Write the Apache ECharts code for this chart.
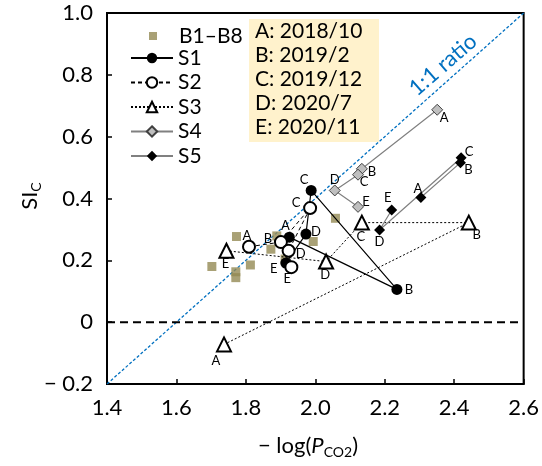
<!DOCTYPE html>
<html><head><meta charset="utf-8">
<script src="https://cdn.jsdelivr.net/npm/echarts@6/dist/echarts.min.js"></script>
<style>html,body{margin:0;padding:0;background:#fff}#c{width:542px;height:466px}</style>
</head><body><div id="c"></div>
<script>
// ---- data ----
const pointLetters = ['A','B','C','D','E'];
const dateLabels = ['A: 2018/10','B: 2019/2','C: 2019/12','D: 2020/7','E: 2020/11'];
const xTicks = ['1.4','1.6','1.8','2.0','2.2','2.4','2.6'];
const yTicks = ['\u2212 0.2','0','0.2','0.4','0.6','0.8','1.0'];
const bX = [1.702,1.773,1.771,1.771,1.813,1.872,1.889,1.994,2.058,1.913];
const bY = [0.180,0.277,0.163,0.144,0.185,0.236,0.279,0.261,0.336,0.204];
const s1X = [1.925,2.235,1.988,1.973,1.915];
const s1Y = [0.275,0.106,0.426,0.285,0.191];
const s2X = [1.809,1.901,1.985,1.923,1.931];
const s2Y = [0.244,0.259,0.369,0.231,0.178];
const s3X = [1.737,2.442,2.134,2.031,1.744];
const s3Y = [-0.072,0.322,0.322,0.196,0.231];
const s4X = [2.351,2.134,2.123,2.056,2.123];
const s4Y = [0.687,0.496,0.477,0.426,0.373];
const s5X = [2.304,2.418,2.420,2.185,2.220];
const s5Y = [0.403,0.516,0.532,0.298,0.363];
const ratioX = [1.4,2.6];
const ratioY = [-0.2,1.0];
const zeroX = [1.4,2.6];
const zeroY = [0,0];

// ---- label offsets (style) ----
const off1 = [[-4,-11],[12,0],[-7,-11],[10,-2],[-12,6]];
const off2 = [[-2,-11],[-13,-3],[-14,-5],[12,3],[-4,12]];
const off3 = [[-8,16],[8,12],[-1,14],[-1,13],[-1,13]];
const off4 = [[7,8],[10,3],[6,7],[0,-11],[8,-5]];
const off5 = [[-3,-9],[8,7],[8,-6],[0,12],[-4,-12]];

const FONT = 'Lato';
function pts(xs, ys, offs) {
  return xs.map((x, i) => ({
    value: [x, ys[i]],
    label: { show: true, position: 'inside', offset: offs[i], formatter: pointLetters[i],
             fontSize: 13, color: '#000', fontFamily: FONT }
  }));
}
function lineSeries(name, xs, ys, offs, sym, size, itemStyle, lineStyle) {
  return { name, type: 'line', data: pts(xs, ys, offs), symbol: sym, symbolSize: size,
    showAllSymbol: true, itemStyle, lineStyle, emphasis: { disabled: true }, z: 3 };
}

const chart = echarts.init(document.getElementById('c'), null, { renderer: 'canvas' });
const option = {
  animation: false,
  grid: { left: 107, top: 13, right: 15, bottom: 82, show: true, borderColor: '#000', borderWidth: 2 },
  xAxis: { type: 'value', min: 1.4, max: 2.6, interval: 0.2,
    axisLine: { show: true, onZero: false, lineStyle: { color: '#000', width: 2 } },
    axisTick: { show: true, inside: true, length: 5, lineStyle: { color: '#000', width: 1.5 } },
    splitLine: { show: false },
    axisLabel: { margin: 13, fontSize: 22, color: '#000', fontFamily: FONT,
      formatter: (v) => xTicks[Math.round((v - 1.4) / 0.2)] } },
  yAxis: { type: 'value', min: -0.2, max: 1.0, interval: 0.2,
    axisLine: { show: true, onZero: false, lineStyle: { color: '#000', width: 2 } },
    axisTick: { show: true, inside: true, length: 5, lineStyle: { color: '#000', width: 1.5 } },
    splitLine: { show: false },
    axisLabel: { margin: 14, fontSize: 22, color: '#000', fontFamily: FONT,
      formatter: (v) => yTicks[Math.round((v + 0.2) / 0.2)] } },
  legend: [
    { data: ['B1\u2013B8'], orient: 'vertical', left: 144, top: 19, itemWidth: 8, itemHeight: 8,
      itemGap: 0, textStyle: { fontSize: 21, color: '#000', fontFamily: FONT, lineHeight: 24, padding: [0, 0, 0, 17] } },
    { data: ['S1','S2','S3','S4','S5'], orient: 'vertical', left: 125, top: 41, itemWidth: 42, itemHeight: 13,
      itemGap: 0.5, textStyle: { fontSize: 21, color: '#000', fontFamily: FONT, lineHeight: 24 } }
  ],
  graphic: [
    { type: 'rect', left: 249, top: 19, shape: { width: 130, height: 123 }, style: { fill: '#FFF2CC' }, z: 0 },
    ...dateLabels.map((t, i) => ({ type: 'text', x: 255, y: 31 + i * 24,
      style: { text: t, fontSize: 21, fill: '#000', fontFamily: FONT, verticalAlign: 'middle', align: 'left' }, z: 1 })),
    { type: 'text', x: 443, y: 65, rotation: 41 * Math.PI / 180,
      style: { text: '1:1 ratio', fontSize: 22, fill: '#0070C0', fontFamily: FONT, align: 'center', verticalAlign: 'middle' } },
    { type: 'text', x: 308, y: 446,
      style: { text: '{a|\u2212 log(}{p|P}{s|CO2}{a|)}', align: 'center', verticalAlign: 'middle', fill: '#000',
        rich: { a: { fontSize: 22, lineHeight: 26, fontFamily: FONT },
                p: { fontSize: 22, lineHeight: 26, fontStyle: 'italic', fontFamily: FONT },
                s: { fontSize: 14, lineHeight: 14, padding: [12, 0, 0, 0], fontFamily: FONT } } } },
    { type: 'text', x: 30, y: 196, rotation: Math.PI / 2,
      style: { text: '{a|SI}{s|C}', align: 'center', verticalAlign: 'middle', fill: '#000',
        rich: { a: { fontSize: 22, lineHeight: 26, fontFamily: FONT },
                s: { fontSize: 14, lineHeight: 14, padding: [12, 0, 0, 0], fontFamily: FONT } } } }
  ],
  series: [
    { name: 'ratio', type: 'line', data: ratioX.map((x, i) => [x, ratioY[i]]), showSymbol: false, symbol: 'none',
      lineStyle: { color: '#0070C0', width: 1.3, type: [3, 2] }, z: 1, silent: true },
    { name: 'zero', type: 'line', data: zeroX.map((x, i) => [x, zeroY[i]]), showSymbol: false, symbol: 'none',
      lineStyle: { color: '#000', width: 2, type: [8, 5] }, z: 1, silent: true },
    { name: 'B1\u2013B8', type: 'scatter', data: bX.map((x, i) => [x, bY[i]]), symbol: 'rect', symbolSize: 9,
      itemStyle: { color: '#948A54' }, z: 2 },
    lineSeries('S1', s1X, s1Y, off1, 'circle', 11, { color: '#000' }, { color: '#000', width: 1.2 }),
    lineSeries('S2', s2X, s2Y, off2, 'circle', 12, { color: '#fff', borderColor: '#000', borderWidth: 2 },
      { color: '#000', width: 1, type: [4, 3] }),
    lineSeries('S3', s3X, s3Y, off3, 'triangle', 14, { color: '#fff', borderColor: '#000', borderWidth: 2 },
      { color: '#000', width: 1, type: [2, 2] }),
    lineSeries('S4', s4X, s4Y, off4, 'diamond', 11, { color: '#BFBFBF', borderColor: '#404040', borderWidth: 1 },
      { color: '#808080', width: 1.2 }),
    lineSeries('S5', s5X, s5Y, off5, 'diamond', 11, { color: '#000' }, { color: '#808080', width: 1.2 })
  ]
};
chart.setOption(option);
</script>
</body></html>
